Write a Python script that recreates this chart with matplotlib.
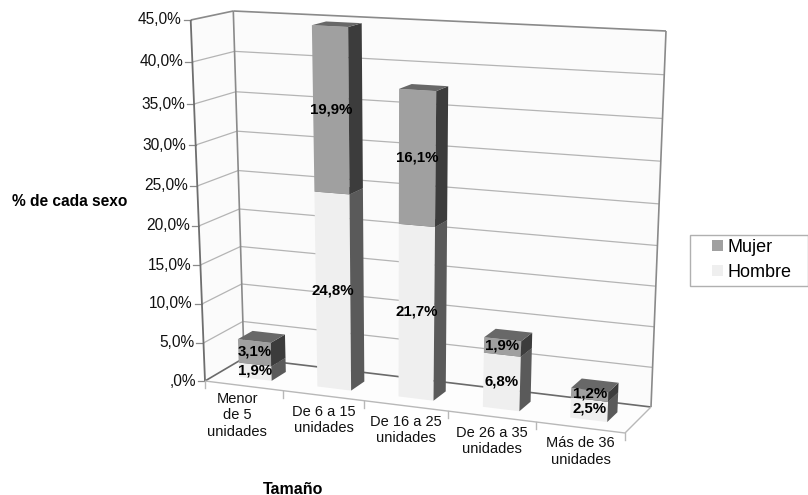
import numpy as np
import matplotlib
matplotlib.use("Agg")
import matplotlib.pyplot as plt
from matplotlib.patches import Polygon, Patch, Rectangle

plt.rcParams['font.family'] = ['Liberation Sans', 'DejaVu Sans']

categories = ["Menor\nde 5\nunidades", "De 6 a 15\nunidades", "De 16 a 25\nunidades",
              "De 26 a 35\nunidades", "Más de 36\nunidades"]
hombre = [1.9, 24.8, 21.7, 6.8, 2.5]
mujer = [3.1, 19.9, 16.1, 1.9, 1.2]
hombre_labels = ["1,9%", "24,8%", "21,7%", "6,8%", "2,5%"]
mujer_labels = ["3,1%", "19,9%", "16,1%", "1,9%", "1,2%"]
y_ticks = [0, 5, 10, 15, 20, 25, 30, 35, 40, 45]
y_tick_labels = [",0%", "5,0%", "10,0%", "15,0%", "20,0%", "25,0%", "30,0%", "35,0%", "40,0%", "45,0%"]
Y_MAX = 45.0

# Oblique 3D box of the chart, as picture pixels of its eight corners
FLOOR = dict(fl=(205, 381), fr=(625, 433), bl=(244, 358), br=(651, 407))
ROOF = dict(fl=(190.7, 20), fr=(645, 43), bl=(233.3, 11), br=(666, 31))
# Foreshortening along the width and along the height of the box
WARP_U_IN = [0, .2, .4, .6, .8, 1]
WARP_U_OUT = [0, .186, .379, .579, .788, 1]
WARP_W_OUT = [0, .1053, .2133, .3213, .4294, .5402, .6537, .7673, .8837, 1]


def bilinear(c, u, v):
    f = [(1 - u) * c['fl'][k] + u * c['fr'][k] for k in (0, 1)]
    b = [(1 - u) * c['bl'][k] + u * c['br'][k] for k in (0, 1)]
    return np.array([(1 - v) * f[k] + v * b[k] for k in (0, 1)])


def proj(u, v, w):
    uu = np.interp(u, WARP_U_IN, WARP_U_OUT)
    t = np.interp(w, y_ticks, WARP_W_OUT)
    a, b = bilinear(FLOOR, uu, v), bilinear(ROOF, uu, v)
    p = a + (b - a) * t
    return float(p[0]), float(p[1])


fig = plt.figure(figsize=(8.08, 4.95), dpi=100)
ax = fig.add_axes([0, 0, 1, 1])
ax.set_xlim(0, 808)
ax.set_ylim(495, 0)
ax.axis("off")


def face(points, fc, z):
    ax.add_patch(Polygon([proj(*p) for p in points], closed=True, fc=fc, ec="none", lw=0, zorder=z))


def seg(a, b, color, lw, z=2):
    p, q = proj(*a), proj(*b)
    ax.plot([p[0], q[0]], [p[1], q[1]], color=color, lw=lw, zorder=z, solid_capstyle="butt")


WALL = "#fbfbfb"
face([(0, 1, 0), (1, 1, 0), (1, 1, Y_MAX), (0, 1, Y_MAX)], WALL, 1)
face([(0, 0, 0), (0, 1, 0), (0, 1, Y_MAX), (0, 0, Y_MAX)], WALL, 1)
face([(0, 0, 0), (1, 0, 0), (1, 1, 0), (0, 1, 0)], "#fdfdfd", 1)

for t, lab in zip(y_ticks, y_tick_labels):
    c = "#6a6a6a" if t == 0 else ("#8a8a8a" if t == Y_MAX else "#b4b4b4")
    lw = 1.2 if t in (0, Y_MAX) else 0.9
    seg((0, 0, t), (0, 1, t), c, lw)
    seg((0, 1, t), (1, 1, t), c, lw)
    x, y = proj(0, 0, t)
    ax.plot([x - 7, x], [y, y], color="#8a8a8a", lw=0.9, zorder=2)
    ax.text(x - 9, y, lab, ha="right", va="center", fontsize=11.2, color="#111111", zorder=6)

seg((0, 0, 0), (0, 0, Y_MAX), "#6e6e6e", 1.3, 3)
seg((0, 1, 0), (0, 1, Y_MAX), "#8a8a8a", 1.2, 3)
seg((1, 1, 0), (1, 1, Y_MAX), "#8a8a8a", 1.2, 3)
seg((0, 0, 0), (1, 0, 0), "#b8b8b8", 1.0, 3)
seg((1, 0, 0), (1, 1, 0), "#b8b8b8", 1.0, 3)

n = len(categories)
for i in range(n + 1):
    x, y = proj(i / n, 0, 0)
    ax.plot([x, x], [y, y + 7], color="#b8b8b8", lw=1.0, zorder=2)

BAR_W = 0.42
V0, V1 = 0.30, 0.68
styles = {
    "h": dict(front="#efefef", side="#5a5a5a", top="#6a6a6a"),
    "m": dict(front="#a0a0a0", side="#3c3c3c", top="#686868"),
}


def box(i, w0, w1, st):
    c = (i + 0.5) / n
    l, r = c - BAR_W / 2 / n, c + BAR_W / 2 / n
    face([(l, V0, w0), (r, V0, w0), (r, V0, w1), (l, V0, w1)], st["front"], 4)
    face([(r, V0, w0), (r, V1, w0), (r, V1, w1), (r, V0, w1)], st["side"], 4)
    face([(l, V0, w1), (r, V0, w1), (r, V1, w1), (l, V1, w1)], st["top"], 4)
    return proj(c, V0, (w0 + w1) / 2)


for i in range(n):
    p = box(i, 0, hombre[i], styles["h"])
    ax.text(p[0], p[1] - 1, hombre_labels[i], ha="center", va="center", fontsize=10.8,
            fontweight="bold", color="black", zorder=7)
    q = box(i, hombre[i], hombre[i] + mujer[i], styles["m"])
    ax.text(q[0], q[1] - 1, mujer_labels[i], ha="center", va="center", fontsize=10.8,
            fontweight="bold", color="black", zorder=7)

for i, cat in enumerate(categories):
    x, y = proj((i + 0.5) / n, 0, 0)
    dx, dy = (-7, 6) if i == 0 else (0, 9)
    ax.text(x + dx, y + dy, cat, ha="center", va="top", fontsize=10.5, linespacing=1.22,
            color="#111111", zorder=6)

ax.text(70, 201, "% de cada sexo", ha="center", va="center", fontsize=11.2, fontweight="bold")
ax.text(293, 489, "Tamaño", ha="center", va="center", fontsize=11.5, fontweight="bold")

ax.add_patch(Rectangle((690, 235), 117.5, 51, fc="white", ec="#b0b0b0", lw=1.0, zorder=7))
handles = [Patch(fc=styles["m"]["front"], ec="none", label="Mujer"),
           Patch(fc=styles["h"]["front"], ec="none", label="Hombre")]
leg = ax.legend(handles=handles, loc="upper left", bbox_to_anchor=(712 / 808, 1 - 239 / 495),
                bbox_transform=fig.transFigure, fontsize=13, frameon=False, borderaxespad=0,
                handlelength=0.6, handleheight=0.6, handletextpad=0.28, labelspacing=0.45,
                borderpad=0)
leg.set_zorder(8)

fig.savefig("out.png", dpi=100)
